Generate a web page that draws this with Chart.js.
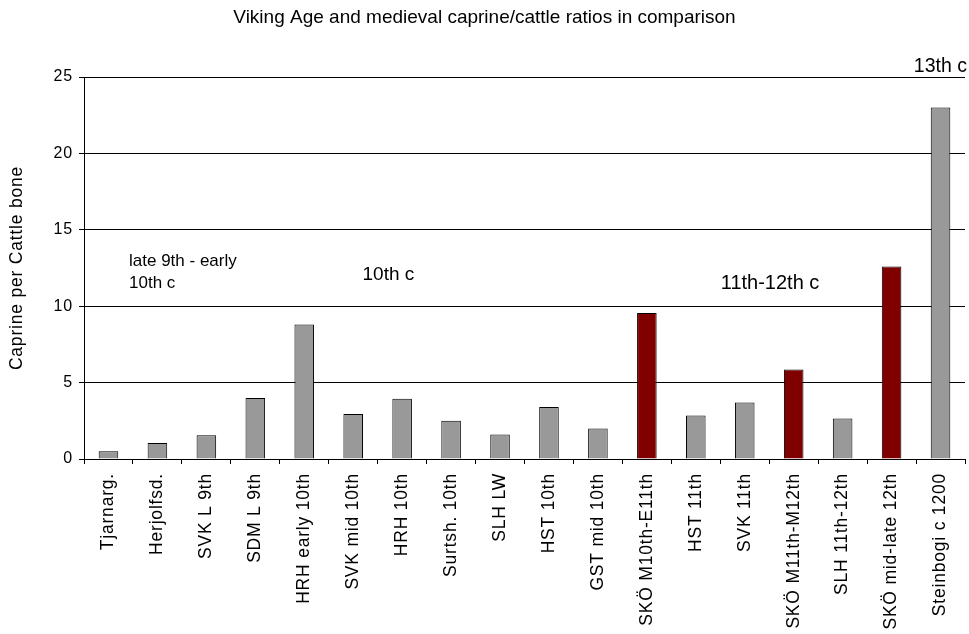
<!DOCTYPE html>
<html>
<head>
<meta charset="utf-8">
<title>Caprine/cattle ratios</title>
<script src="https://cdn.jsdelivr.net/npm/chart.js@4.4.1/dist/chart.umd.min.js"></script>
<style>
  html, body { margin: 0; padding: 0; background: #fff; }
  #ratioChart { display: block; }
</style>
</head>
<body>
<canvas id="ratioChart" width="969" height="634"></canvas>
<script>
// sites / phases along the x axis
const siteLabels = [
  'Tjarnarg.', 'Herjolfsd.', 'SVK L 9th', 'SDM L 9th', 'HRH early 10th',
  'SVK mid 10th', 'HRH 10th', 'Surtsh. 10th', 'SLH LW', 'HST 10th',
  'GST mid 10th', 'SKÖ M10th-E11th', 'HST 11th', 'SVK 11th', 'SKÖ M11th-M12th',
  'SLH 11th-12th', 'SKÖ mid-late 12th', 'Steinbogi c 1200'
];

// caprine bones per cattle bone
const ratios = [
  0.5, 1.05, 1.55, 4.0, 8.8,
  2.95, 3.95, 2.5, 1.6, 3.4,
  2.0, 9.55, 2.85, 3.7, 5.85,
  2.65, 12.6, 23.0
];

// the SKÖ phases are shown in dark red
const skoSites = ['SKÖ M10th-E11th', 'SKÖ M11th-M12th', 'SKÖ mid-late 12th'];

const yTicks = [0, 5, 10, 15, 20, 25];

// period notes written over the bars: [text, category position, value, font size]
const periodNotes = [
  ['late 9th - early', 0.42, 12.6, 17],
  ['10th c', 0.42, 11.2, 17],
  ['10th c', 5.19, 11.7, 19],
  ['11th-12th c', 12.51, 11.1, 20],
  ['13th c', 17.54, 25.3, 19.5]
];

const FONT = "'Liberation Sans', Arial, sans-serif";
const chartTitle = 'Viking Age and medieval caprine/cattle ratios in comparison';

Chart.defaults.color = '#000';
Chart.defaults.font.family = FONT;

// the original axis text is set a bit loose, canvas letterSpacing does that
const looseText = {
  id: 'looseText',
  beforeUpdate(chart) { chart.ctx.letterSpacing = '0.8px'; },
  beforeDraw(chart) { chart.ctx.letterSpacing = '0.8px'; }
};

const notesPlugin = {
  id: 'notes',
  afterDraw(chart) {
    const ctx = chart.ctx;
    const xs = chart.scales.x;
    const ys = chart.scales.y;
    ctx.save();
    ctx.fillStyle = '#000';
    ctx.textBaseline = 'alphabetic';
    ctx.letterSpacing = '0px';

    // chart title
    ctx.font = '19px ' + FONT;
    ctx.textAlign = 'center';
    ctx.fillText(chartTitle, chart.width / 2, 23);

    periodNotes.forEach(n => {
      const px = xs.left + (n[1] + 0.5) * (xs.width / siteLabels.length);
      const py = ys.getPixelForValue(n[2]);
      ctx.font = n[3] + 'px ' + FONT;
      ctx.textAlign = n[0] === '13th c' ? 'right' : 'left';
      ctx.fillText(n[0], px, py);
    });
    ctx.restore();
  }
};

const ctx = document.getElementById('ratioChart').getContext('2d');

new Chart(ctx, {
  type: 'bar',
  data: {
    labels: siteLabels,
    datasets: [{
      label: 'Caprine per Cattle bone',
      data: ratios,
      backgroundColor: siteLabels.map(s => skoSites.includes(s) ? '#800000' : '#999999'),
      borderColor: '#000',
      borderWidth: 1,
      borderSkipped: 'bottom',
      barPercentage: 0.4,
      categoryPercentage: 1.0
    }]
  },
  options: {
    responsive: false,
    animation: false,
    layout: { padding: { top: 77, right: 4, bottom: 0, left: 0 } },
    plugins: {
      legend: { display: false },
      tooltip: { enabled: false },
      title: { display: false }
    },
    scales: {
      x: {
        afterFit(scale) {
          scale.height = 175;
          scale.paddingLeft = 0;
          scale.paddingRight = 0;
        },
        grid: {
          offset: true,
          drawOnChartArea: false,
          drawTicks: true,
          tickLength: 5,
          color: '#000'
        },
        border: { display: true, color: '#000', width: 1 },
        ticks: {
          autoSkip: false,
          minRotation: 90,
          maxRotation: 90,
          padding: 9,
          font: { size: 17.5 },
          color: '#000'
        }
      },
      y: {
        min: 0,
        max: 25,
        afterFit(scale) { scale.width = 84; },
        afterBuildTicks(scale) { scale.ticks = yTicks.map(v => ({ value: v })); },
        grid: {
          color: '#000',
          lineWidth: 1,
          drawTicks: true,
          tickLength: 5
        },
        border: { display: true, color: '#000', width: 1 },
        ticks: {
          padding: 6,
          font: { size: 16 },
          color: '#000'
        },
        title: {
          display: true,
          text: 'Caprine per Cattle bone',
          font: { size: 17.5 },
          color: '#000',
          padding: { top: 7, bottom: 0 }
        }
      }
    }
  },
  plugins: [looseText, notesPlugin]
});
</script>
</body>
</html>
